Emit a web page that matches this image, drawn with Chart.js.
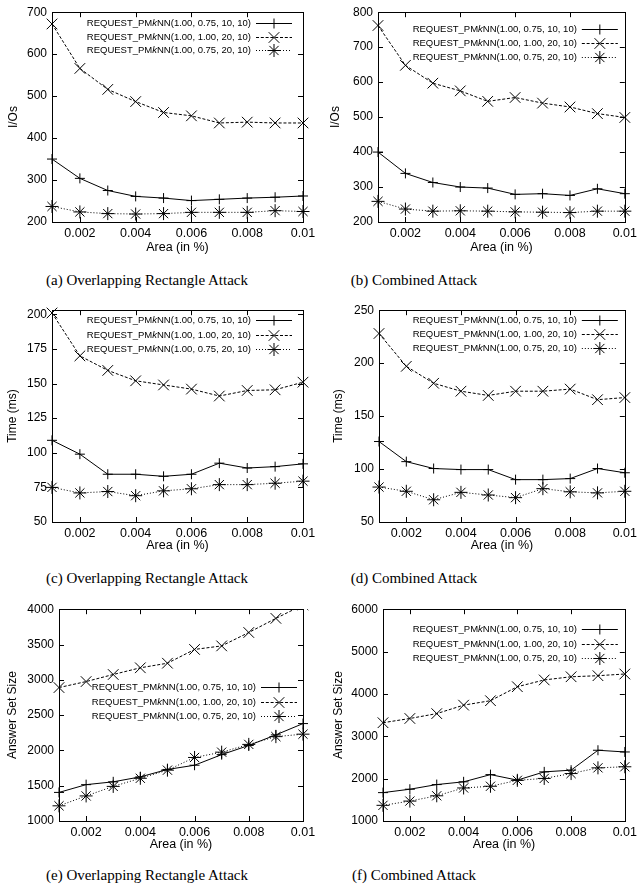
<!DOCTYPE html>
<html>
<head>
<meta charset="utf-8">
<script src="https://cdn.jsdelivr.net/npm/chart.js"></script>
<style>
  body { margin: 0; background: #fff; }
  #page { position: relative; width: 641px; height: 896px; }
  canvas { position: absolute; }
  .cap { position: absolute; width: 320px; text-align: center; font: 15px "Liberation Serif", "Times New Roman", serif; color: #000; }
</style>
</head>
<body>
<div id="page">
  <canvas id="cA" width="320" height="256" style="left:0;top:0"></canvas>
  <canvas id="cB" width="321" height="256" style="left:320px;top:0"></canvas>
  <canvas id="cC" width="320" height="256" style="left:0;top:298px"></canvas>
  <canvas id="cD" width="321" height="256" style="left:320px;top:298px"></canvas>
  <canvas id="cE" width="320" height="256" style="left:0;top:597px"></canvas>
  <canvas id="cF" width="321" height="256" style="left:320px;top:597px"></canvas>
  <div class="cap" style="left:-13px;top:272px">(a) Overlapping Rectangle Attack</div>
  <div class="cap" style="left:254px;top:272px">(b) Combined Attack</div>
  <div class="cap" style="left:-13px;top:570px">(c) Overlapping Rectangle Attack</div>
  <div class="cap" style="left:254px;top:570px">(d) Combined Attack</div>
  <div class="cap" style="left:-13px;top:867px">(e) Overlapping Rectangle Attack</div>
  <div class="cap" style="left:254px;top:867px">(f) Combined Attack</div>
</div>
<script>
// x values (area in %) and the x tick labels
const areaX = [0.001, 0.002, 0.003, 0.004, 0.005, 0.006, 0.007, 0.008, 0.009, 0.01];
const xTicks = [0.002, 0.004, 0.006, 0.008, 0.01];

const seriesNames = [
  'REQUEST_PMkNN(1.00, 0.75, 10, 10)',
  'REQUEST_PMkNN(1.00, 1.00, 20, 10)',
  'REQUEST_PMkNN(1.00, 0.75, 20, 10)'
];

// (a) I/Os, overlapping rectangle attack
const ioOverlap1 = [350, 304, 275, 261, 257, 251, 254, 257, 259, 262];
const ioOverlap2 = [672, 566, 516, 487, 461, 453, 436, 438, 436, 436];
const ioOverlap3 = [237, 224, 220, 219, 220, 223, 223, 223, 227, 225];

// (b) I/Os, combined attack
const ioCombined1 = [400, 339, 313, 300, 297, 279, 281, 276, 295, 281];
const ioCombined2 = [762, 648, 597, 575, 545, 556, 540, 529, 510, 499];
const ioCombined3 = [259, 237, 231, 232, 231, 229, 228, 227, 231, 231];

// (c) time, overlapping rectangle attack
const timeOverlap1 = [109, 99, 84.5, 84.5, 83, 84.5, 92.5, 89, 90, 92];
const timeOverlap2 = [201, 170, 159.5, 152, 149, 146, 141, 145, 145.5, 151];
const timeOverlap3 = [75, 71, 72, 69, 72.5, 74, 77, 77, 78, 79.5];

// (d) time, combined attack
const timeCombined1 = [126, 107, 100.5, 99.5, 99.5, 90, 90, 91, 100.5, 96.5];
const timeCombined2 = [228, 197, 181, 173.5, 169.5, 173.5, 173.5, 175.5, 165.5, 167.5];
const timeCombined3 = [83, 79, 71, 78, 75.5, 73, 81.5, 78.5, 77.5, 79];

// (e) answer set size, overlapping rectangle attack
const ansOverlap1 = [1405, 1515, 1555, 1625, 1730, 1790, 1940, 2070, 2220, 2380];
const ansOverlap2 = [2890, 2975, 3075, 3170, 3235, 3430, 3480, 3670, 3870, 4060];
const ansOverlap3 = [1215, 1355, 1490, 1605, 1720, 1900, 1975, 2085, 2195, 2230];

// (f) answer set size, combined attack
const ansCombined1 = [1670, 1750, 1860, 1925, 2095, 1965, 2160, 2200, 2670, 2630];
const ansCombined2 = [3320, 3420, 3535, 3735, 3840, 4170, 4330, 4405, 4430, 4470];
const ansCombined3 = [1370, 1470, 1595, 1780, 1820, 1960, 2005, 2120, 2255, 2280];

const FONT = '"Liberation Sans", Arial, Helvetica, sans-serif';
const styles = [
  { borderDash: [], pointStyle: 'cross', pointRadius: 5 },
  { borderDash: [3, 1.8], pointStyle: 'crossRot', pointRadius: 7.5 },
  { borderDash: [1, 2], pointStyle: 'star', pointRadius: 6.5 }
];

// box around the plot with inward ticks (gnuplot look)
const framePlugin = {
  id: 'frame',
  afterDatasetsDraw(chart) {
    const { ctx, chartArea: a, scales } = chart;
    ctx.save();
    ctx.strokeStyle = '#000';
    ctx.lineWidth = 1;
    ctx.setLineDash([]);
    ctx.strokeRect(Math.round(a.left) + 0.5, Math.round(a.top) + 0.5,
      Math.round(a.right - a.left), Math.round(a.bottom - a.top));
    ctx.beginPath();
    scales.x.ticks.forEach(t => {
      const px = Math.round(scales.x.getPixelForValue(t.value)) + 0.5;
      ctx.moveTo(px, a.bottom); ctx.lineTo(px, a.bottom - 5);
      ctx.moveTo(px, a.top); ctx.lineTo(px, a.top + 5);
    });
    scales.y.ticks.forEach(t => {
      const py = Math.round(scales.y.getPixelForValue(t.value)) + 0.5;
      ctx.moveTo(a.left, py); ctx.lineTo(a.left + 5, py);
      ctx.moveTo(a.right, py); ctx.lineTo(a.right - 5, py);
    });
    ctx.stroke();
    ctx.restore();
  }
};

// key inside the plot: text, then the line sample with its marker
const keyPlugin = {
  id: 'gnuKey',
  afterDatasetsDraw(chart, args, opts) {
    const { ctx, chartArea: a } = chart;
    const sRight = a.right - opts.right;
    const sLeft = sRight - opts.len;
    ctx.save();
    chart.data.datasets.forEach((ds, i) => {
      const y = Math.round(a.top + opts.top + i * opts.row) + 0.5;
      const k = ds.label.indexOf('k');
      const parts = [[ds.label.slice(0, k), ''], ['k', 'italic '], [ds.label.slice(k + 1), '']];
      let w = 0;
      parts.forEach(p => { ctx.font = p[1] + opts.size + 'px ' + FONT; p.push(ctx.measureText(p[0]).width); w += p[2]; });
      let x = sLeft - opts.gap - w;
      ctx.fillStyle = '#000';
      ctx.textBaseline = 'middle';
      ctx.textAlign = 'left';
      parts.forEach(p => { ctx.font = p[1] + opts.size + 'px ' + FONT; ctx.fillText(p[0], x, y); x += p[2]; });
      ctx.strokeStyle = '#000';
      ctx.lineWidth = 1;
      ctx.setLineDash(ds.borderDash);
      ctx.beginPath(); ctx.moveTo(sLeft, y); ctx.lineTo(sRight, y); ctx.stroke();
      ctx.setLineDash([]);
      Chart.helpers.drawPoint(ctx, { pointStyle: ds.pointStyle, radius: ds.pointRadius, borderWidth: 1, rotation: 0 },
        (sLeft + sRight) / 2, y);
    });
    ctx.restore();
  }
};

function makeChart(id, values, p) {
  const datasets = values.map((vals, i) => Object.assign({
    label: seriesNames[i],
    data: vals.map((v, j) => ({ x: areaX[j], y: v })),
    borderColor: '#000',
    backgroundColor: '#000',
    borderWidth: 1,
    pointBorderWidth: 1,
    pointBorderColor: '#000',
    tension: 0,
    clip: p.clip || 10
  }, styles[i]));

  new Chart(document.getElementById(id), {
    type: 'line',
    data: { datasets },
    options: {
      responsive: false,
      animation: false,
      events: [],
      layout: { padding: { top: 12, right: p.right, left: 0, bottom: 0 } },
      plugins: {
        legend: { display: false },
        tooltip: { enabled: false },
        gnuKey: { right: p.keyRight, top: p.keyTop, row: p.keyRow, len: 36, gap: 5, size: 9.5 }
      },
      scales: {
        x: {
          type: 'linear',
          min: 0.001,
          max: 0.01,
          afterBuildTicks: s => { s.ticks = xTicks.map(v => ({ value: v })); },
          afterFit: s => { s.height = p.xH; },
          grid: { display: false, drawTicks: false },
          border: { display: false },
          ticks: { padding: 4, color: '#000', font: { family: FONT, size: 12.5 }, callback: v => String(v), maxRotation: 0, autoSkip: false },
          title: { display: true, text: 'Area (in %)', color: '#000', font: { family: FONT, size: 12.5 }, padding: { top: 0, bottom: 1 } }
        },
        y: {
          type: 'linear',
          min: p.yMin,
          max: p.yMax,
          afterFit: s => { s.width = p.yW; },
          grid: { display: false, drawTicks: false },
          border: { display: false },
          ticks: { stepSize: p.yStep, includeBounds: false, padding: 5, color: '#000', font: { family: FONT, size: 12 }, callback: v => String(v) },
          title: { display: true, text: p.yTitle, color: '#000', font: { family: FONT, size: 12 }, padding: { top: p.yTitlePad, bottom: 0 } }
        }
      }
    },
    plugins: [framePlugin, keyPlugin]
  });
}

makeChart('cA', [ioOverlap1, ioOverlap2, ioOverlap3],
  { yMin: 200, yMax: 700, yStep: 100, yTitle: 'I/Os', yW: 52, right: 17, xH: 34, yTitlePad: 6, keyRight: 11, keyTop: 11, keyRow: 13.5 });
makeChart('cB', [ioCombined1, ioCombined2, ioCombined3],
  { yMin: 200, yMax: 800, yStep: 100, yTitle: 'I/Os', yW: 58, right: 12, xH: 34, yTitlePad: 8, keyRight: 7, keyTop: 17, keyRow: 14 });
makeChart('cC', [timeOverlap1, timeOverlap2, timeOverlap3],
  { yMin: 50, yMax: 203, yStep: 25, yTitle: 'Time (ms)', yW: 52, right: 17, xH: 32, yTitlePad: 5, keyRight: 11, keyTop: 10, keyRow: 14.5 });
makeChart('cD', [timeCombined1, timeCombined2, timeCombined3],
  { yMin: 50, yMax: 250, yStep: 50, yTitle: 'Time (ms)', yW: 59, right: 12, xH: 32, yTitlePad: 11, keyRight: 7, keyTop: 10, keyRow: 14 });
makeChart('cE', [ansOverlap1, ansOverlap2, ansOverlap3],
  { yMin: 1000, yMax: 4000, yStep: 500, yTitle: 'Answer Set Size', yW: 59, right: 17, xH: 32, yTitlePad: 5, keyRight: 6, keyTop: 78, keyRow: 14.5,
    clip: { left: 10, right: 10, top: 0, bottom: 10 } });
makeChart('cF', [ansCombined1, ansCombined2, ansCombined3],
  { yMin: 1000, yMax: 6000, yStep: 1000, yTitle: 'Answer Set Size', yW: 63, right: 12, xH: 32, yTitlePad: 11, keyRight: 7, keyTop: 20, keyRow: 14.5 });
</script>
</body>
</html>
